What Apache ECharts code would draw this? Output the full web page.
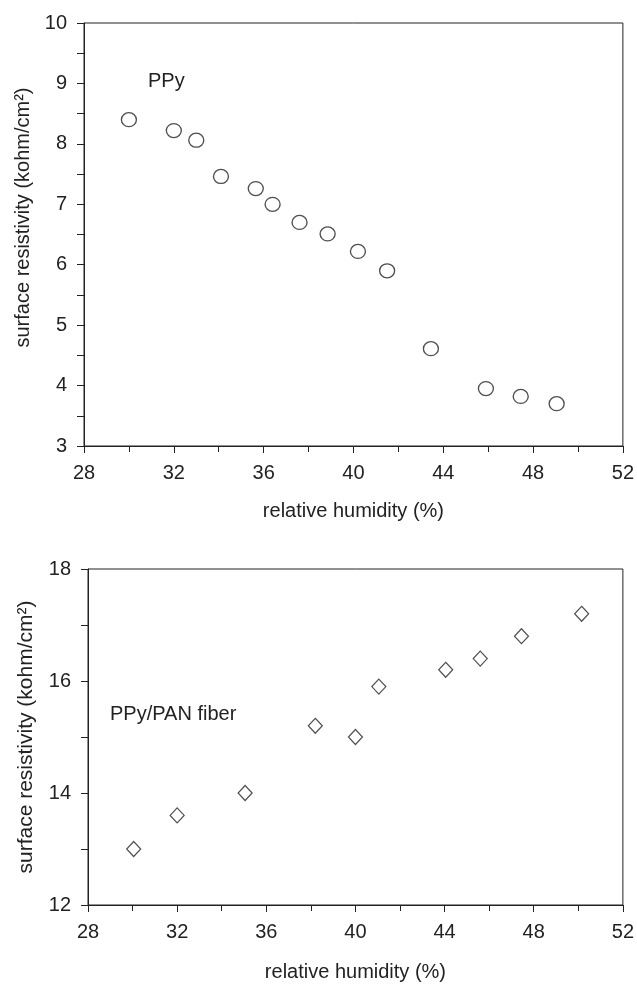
<!DOCTYPE html>
<html>
<head>
<meta charset="utf-8">
<script src="https://cdn.jsdelivr.net/npm/echarts@6/dist/echarts.min.js"></script>
<style>
html,body{margin:0;padding:0;background:#fff;}
#chart{width:637px;height:986px;}
</style>
</head>
<body>
<div id="chart"></div>
<script>
// PPy (top panel)
var ppyHumidity = [30.0, 32.0, 33.0, 34.1, 35.65, 36.4, 37.6, 38.85, 40.2, 41.5, 43.45, 45.9, 47.45, 49.05];
var ppyResistivity = [8.40, 8.22, 8.06, 7.46, 7.26, 7.00, 6.70, 6.51, 6.22, 5.90, 4.61, 3.95, 3.82, 3.70];
// PPy/PAN fiber (bottom panel)
var fiberHumidity = [30.05, 32.0, 35.05, 38.2, 40.0, 41.05, 44.05, 45.6, 47.45, 50.15];
var fiberResistivity = [13.0, 13.6, 14.0, 15.2, 15.0, 15.9, 16.2, 16.4, 16.8, 17.2];
// axes
var xTicks = {min: 28, max: 52, interval: 4};
var yTicksTop = {min: 3, max: 10, interval: 1};
var yTicksBottom = {min: 12, max: 18, interval: 2};
var xTitle = 'relative humidity (%)';
var yTitle = 'surface resistivity (kohm/cm²)';
var panelLabels = ['PPy', 'PPy/PAN fiber'];

var FONT = 'Liberation Sans, Arial, Helvetica, sans-serif';
var INK = '#222';

function xAxis(gridIndex, fs, gap) {
  return {
    type: 'value', gridIndex: gridIndex,
    min: xTicks.min, max: xTicks.max, interval: xTicks.interval,
    name: xTitle, nameLocation: 'middle', nameGap: gap,
    nameTextStyle: {fontFamily: FONT, fontSize: 20, color: INK},
    axisLine: {show: true, lineStyle: {color: INK, width: 1}},
    axisTick: {show: true, inside: false, length: 7, lineStyle: {color: INK}},
    minorTick: {show: true, splitNumber: 2, length: 6, lineStyle: {color: INK}},
    splitLine: {show: false},
    axisLabel: {fontFamily: FONT, fontSize: fs, color: INK, margin: 17}
  };
}
function yAxis(gridIndex, t, fs, gap, titleSize, titlePad) {
  return {
    type: 'value', gridIndex: gridIndex,
    min: t.min, max: t.max, interval: t.interval,
    name: yTitle, nameLocation: 'middle', nameGap: gap,
    nameTextStyle: {fontFamily: FONT, fontSize: titleSize, color: INK, padding: titlePad},
    axisLine: {show: true, lineStyle: {color: INK, width: 1}},
    axisTick: {show: true, inside: false, length: 7, lineStyle: {color: INK}},
    minorTick: {show: true, splitNumber: 2, length: 7, lineStyle: {color: INK}},
    splitLine: {show: false},
    axisLabel: {fontFamily: FONT, fontSize: fs, color: INK, margin: 17}
  };
}

var chart = echarts.init(document.getElementById('chart'), null, {renderer: 'canvas'});
chart.setOption({
  backgroundColor: '#fff',
  animation: false,
  grid: [
    {left: 84, top: 23, width: 540, height: 423, show: true, borderColor: INK, borderWidth: 1, backgroundColor: 'transparent'},
    {left: 88, top: 569, width: 538, height: 336, show: true, borderColor: INK, borderWidth: 1, backgroundColor: 'transparent'}
  ],
  xAxis: [xAxis(0, 20, 55), xAxis(1, 20, 57)],
  yAxis: [yAxis(0, yTicksTop, 20, 50, 20, [0, 0, 0, 34]), yAxis(1, yTicksBottom, 20, 51, 21, 0)],
  graphic: [
    {type: 'text', left: 148, top: 71, style: {text: panelLabels[0], font: '20px ' + FONT, fill: INK}},
    {type: 'text', left: 110, top: 704, style: {text: panelLabels[1], font: '20px ' + FONT, fill: INK}}
  ],
  series: [
    {
      type: 'scatter', xAxisIndex: 0, yAxisIndex: 0,
      symbol: 'circle', symbolSize: [15, 14],
      itemStyle: {color: '#fff', borderColor: '#222', borderWidth: 1.3},
      data: ppyHumidity.map(function (x, i) { return [x, ppyResistivity[i]]; })
    },
    {
      type: 'scatter', xAxisIndex: 1, yAxisIndex: 1,
      symbol: 'diamond', symbolSize: [14, 15],
      itemStyle: {color: '#fff', borderColor: '#222', borderWidth: 1.2},
      data: fiberHumidity.map(function (x, i) { return [x, fiberResistivity[i]]; })
    }
  ]
});
</script>
</body>
</html>
